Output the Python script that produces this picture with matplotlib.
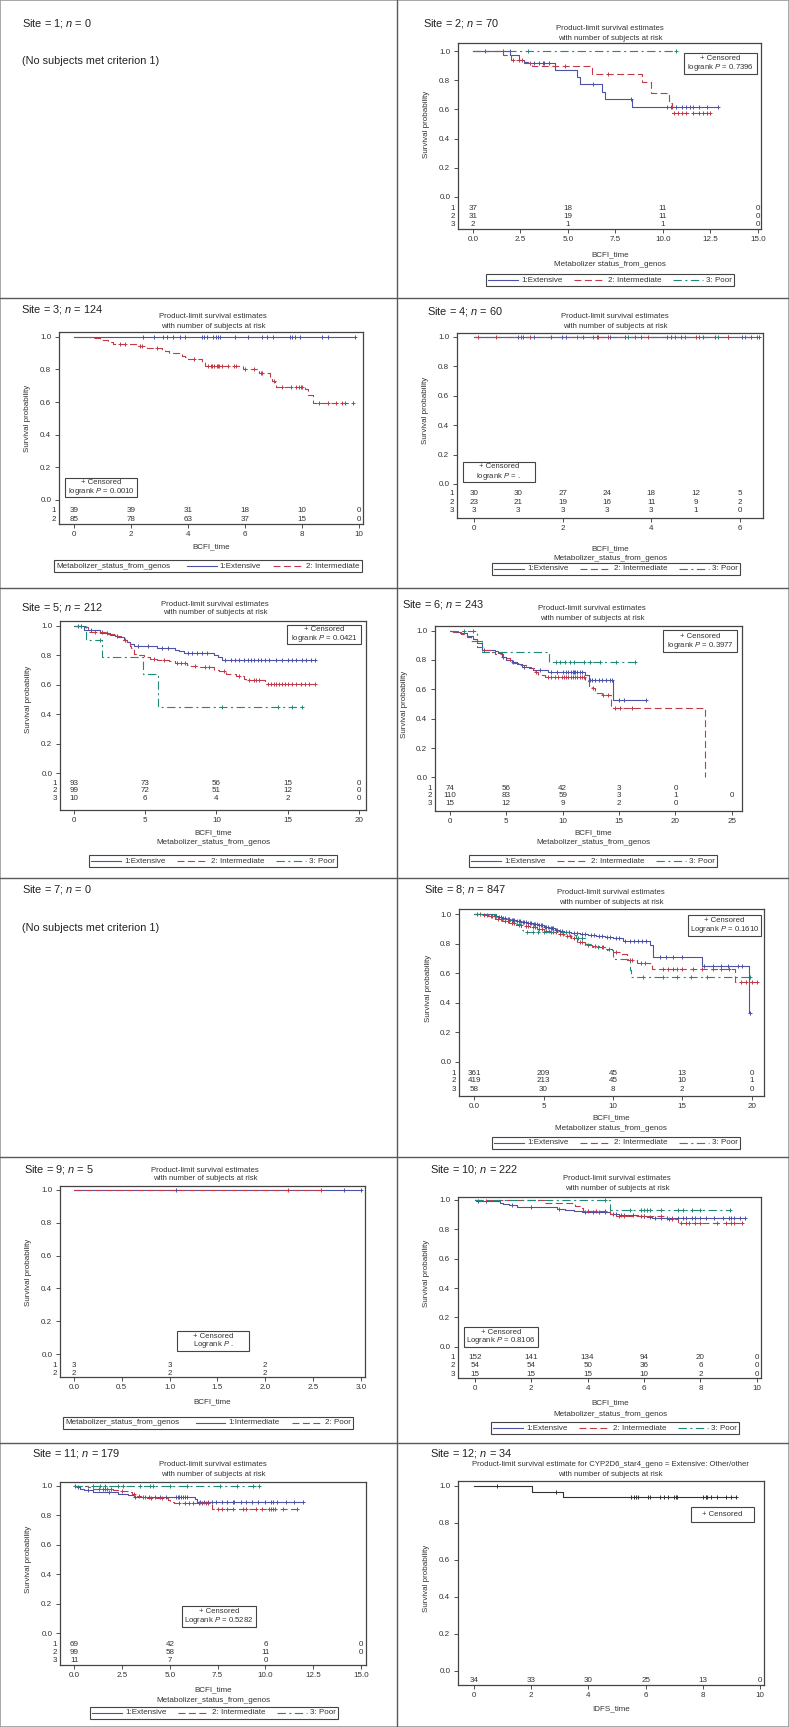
import numpy as np
import matplotlib
matplotlib.use("Agg")
import matplotlib.pyplot as plt
from matplotlib.lines import Line2D
from matplotlib.patches import Rectangle
from matplotlib.transforms import blended_transform_factory

plt.rcParams["font.family"] = ["Liberation Sans", "DejaVu Sans"]
plt.rcParams["mathtext.fontset"] = "custom"
plt.rcParams["mathtext.rm"] = "Liberation Sans"
plt.rcParams["mathtext.it"] = "Liberation Sans:italic"
plt.rcParams["lines.scale_dashes"] = False

# ---------------- data ----------------
# t = event times, s = survival after each event, c = censoring times

# Site 2
s2_ext_t = [1.96, 2.4, 2.7, 2.9, 4.29, 5.46, 5.64, 6.77, 6.95, 8.38]
s2_ext_s = [0.97, 0.94, 0.925, 0.917, 0.868, 0.82, 0.773, 0.72, 0.668, 0.614]
s2_ext_c = [1.56, 1.93, 3.2, 3.5, 3.7, 3.75, 4.0, 6.3, 8.3, 10.2, 10.4, 10.7, 11.0, 11.2, 11.4, 11.6, 11.9, 12.3, 12.9]
s2_int_t = [1.56, 2.0, 2.66, 3.1, 6.25, 8.9, 9.35, 10.3, 10.5]
s2_int_s = [0.97, 0.936, 0.92, 0.898, 0.84, 0.79, 0.71, 0.645, 0.578]
s2_int_c = [0.65, 2.1, 2.4, 2.6, 3.0, 4.85, 7.12, 10.6, 10.8, 11.0, 11.2, 11.6, 11.9, 12.1, 12.3, 12.46]
s2_poor_t = []
s2_poor_s = []
s2_poor_c = [2.92, 10.71]
s2_risk_x = [0, 5, 10, 15]
s2_risk = [[37, 18, 11, 0], [31, 19, 11, 0], [2, 1, 1, 0]]

# Site 3
s3_ext_t = []
s3_ext_s = []
s3_ext_c = [2.41, 2.82, 3.13, 3.25, 3.49, 3.72, 3.89, 4.48, 4.56, 4.65, 4.89, 4.98, 5.06, 5.12, 5.65,
            6.12, 6.58, 6.76, 6.99, 7.58, 7.66, 7.75, 7.93, 8.69, 8.92, 9.86]
s3_int_t = [0.58, 0.91, 1.2, 1.38, 2.2, 2.55, 3.1, 3.2, 3.35, 3.78, 3.9, 4.0, 4.48, 4.6, 5.94, 6.5,
            6.88, 6.95, 7.06, 7.1, 8.1, 8.2, 8.4]
s3_int_s = [0.99, 0.98, 0.97, 0.957, 0.943, 0.93, 0.92, 0.91, 0.90, 0.885, 0.875, 0.866, 0.845, 0.82,
            0.802, 0.78, 0.745, 0.73, 0.715, 0.694, 0.68, 0.643, 0.592]
s3_int_c = [1.6, 1.8, 2.3, 2.4, 2.9, 4.2, 4.7, 4.8, 4.85, 4.9, 5.0, 5.05, 5.1, 5.2, 5.4, 5.6, 5.7, 6.0,
            6.3, 6.55, 6.6, 7.0, 7.3, 7.6, 7.8, 7.9, 7.95, 8.0, 8.6, 8.9, 9.2, 9.4, 9.5, 9.8]
s3_risk_x = [0, 2, 4, 6, 8, 10]
s3_risk = [[39, 39, 31, 18, 10, 0], [85, 78, 63, 37, 15, 0]]

# Site 4
s4_ext_c = [1.0, 1.11, 1.36, 1.75, 1.98, 2.07, 2.47, 2.77, 3.07, 3.41, 3.78, 4.35, 4.44, 4.67, 5.17,
            5.44, 5.74, 6.04, 6.25, 6.43]
s4_int_c = [0.10, 0.49, 1.06, 1.26, 2.69, 2.80, 3.03, 3.63, 3.93, 4.53, 5.02, 5.08, 5.74, 6.11, 6.38]
s4_poor_c = [2.32, 3.48, 4.76, 5.5]
s4_risk_x = [0, 1, 2, 3, 4, 5, 6]
s4_risk = [[30, 30, 27, 24, 18, 12, 5], [23, 21, 19, 16, 11, 9, 2], [3, 3, 3, 3, 3, 1, 0]]

# Site 5
s5_ext_t = [0.7, 1.82, 2.5, 2.9, 3.1, 3.5, 3.7, 3.9, 4.2, 5.8, 7.1, 7.4, 7.7, 9.8, 10.1, 10.4]
s5_ext_s = [0.968, 0.95, 0.94, 0.93, 0.92, 0.90, 0.888, 0.878, 0.86, 0.848, 0.837, 0.825, 0.814,
            0.803, 0.79, 0.769]
s5_ext_c = [0.3, 0.5, 1.2, 2.3, 3.0, 3.6, 4.5, 5.2, 6.2, 6.6, 8.0, 8.3, 8.6, 9.0, 9.3, 10.6, 11.0,
            11.3, 11.6, 11.9, 12.2, 12.4, 12.6, 12.9, 13.1, 13.4, 13.7, 14.2, 14.6, 15.0, 15.3, 15.6,
            16.0, 16.3, 16.6, 16.9]
s5_int_t = [0.77, 1.0, 2.4, 3.0, 3.3, 3.46, 3.7, 3.9, 4.0, 4.2, 4.4, 4.9, 5.3, 5.8, 6.7, 7.1, 7.9,
            8.1, 8.8, 9.8, 10.2, 10.7, 11.4, 11.9, 12.1, 13.4]
s5_int_s = [0.99, 0.96, 0.945, 0.93, 0.92, 0.90, 0.88, 0.86, 0.848, 0.81, 0.80, 0.787, 0.774, 0.765,
            0.758, 0.747, 0.735, 0.724, 0.717, 0.70, 0.69, 0.672, 0.661, 0.638, 0.629, 0.606]
s5_int_c = [1.5, 2.0, 5.6, 6.3, 7.2, 7.5, 7.8, 8.5, 9.2, 9.5, 10.5, 11.6, 12.3, 12.6, 12.8, 13.0,
            13.6, 13.8, 14.0, 14.2, 14.4, 14.6, 14.8, 15.0, 15.3, 15.6, 15.9, 16.2, 16.5, 16.9]
s5_poor_t = [0.85, 1.94, 4.87, 5.92]
s5_poor_s = [0.90, 0.787, 0.674, 0.446]
s5_poor_c = [1.85, 10.36, 14.34, 15.27, 15.98]
s5_risk_x = [0, 5, 10, 15, 20]
s5_risk = [[93, 73, 56, 15, 0], [99, 72, 51, 12, 0], [10, 6, 4, 2, 0]]

# Site 6
s6_ext_t = [0.44, 0.9, 1.48, 2.0, 2.4, 2.8, 4.0, 4.3, 4.6, 5.0, 5.5, 5.9, 6.4, 7.0, 7.4, 8.7, 12.0,
            12.3, 14.5]
s6_ext_s = [0.99, 0.98, 0.96, 0.94, 0.914, 0.868, 0.86, 0.845, 0.823, 0.80, 0.785, 0.77, 0.755,
            0.745, 0.732, 0.721, 0.698, 0.664, 0.528]
s6_ext_c = [3.0, 4.7, 5.6, 6.6, 8.0, 9.0, 9.5, 10.0, 10.3, 10.5, 10.7, 10.9, 11.0, 11.1, 11.3, 11.5,
            11.7, 12.4, 12.6, 12.9, 13.2, 13.5, 13.8, 14.2, 14.4, 15.0, 15.4, 17.4]
s6_int_t = [0.3, 1.0, 1.5, 1.9, 2.4, 3.0, 3.6, 4.0, 4.7, 5.3, 6.1, 6.7, 7.2, 7.5, 7.8, 8.4, 12.0,
            12.3, 12.6, 12.9, 13.5, 14.3, 22.6]
s6_int_s = [0.99, 0.975, 0.955, 0.93, 0.89, 0.87, 0.855, 0.84, 0.81, 0.782, 0.766, 0.755, 0.744,
            0.717, 0.698, 0.683, 0.653, 0.624, 0.608, 0.574, 0.562, 0.472, 0.0]
s6_int_c = [7.6, 8.7, 9.0, 9.3, 9.6, 9.9, 10.1, 10.3, 10.5, 10.7, 10.9, 11.1, 11.3, 11.5, 11.7, 11.9,
            12.7, 13.6, 14.0, 14.6, 15.1, 16.1]
s6_poor_t = [2.37, 2.8, 8.79]
s6_poor_s = [0.932, 0.857, 0.789]
s6_poor_c = [1.2, 2.0, 9.4, 9.8, 10.2, 10.6, 11.0, 11.9, 12.4, 13.3, 14.7, 16.4]
s6_risk_x = [0, 5, 10, 15, 20, 25]
s6_risk = [[74, 56, 42, 3, 0, None], [110, 83, 59, 3, 1, 0], [15, 12, 9, 2, 0, None]]

# Site 8
s8_ext_t = [1.4, 1.7, 2.0, 2.3, 2.6, 3.0, 3.4, 3.8, 4.2, 4.6, 5.0, 5.4, 5.8, 6.1, 6.5, 7.0, 7.6,
            8.2, 8.8, 9.4, 10.0, 10.7, 12.7, 12.9, 16.4, 19.8]
s8_ext_s = [0.99, 0.983, 0.975, 0.968, 0.962, 0.955, 0.948, 0.94, 0.932, 0.925, 0.915, 0.905, 0.895,
            0.885, 0.878, 0.871, 0.865, 0.858, 0.85, 0.844, 0.838, 0.821, 0.792, 0.713, 0.649, 0.328]
s8_ext_c = [1.5, 1.6, 1.8, 1.9, 2.1, 2.2, 2.4, 2.5, 2.7, 2.8, 2.9, 3.1, 3.2, 3.3, 3.5, 3.6, 3.7, 3.9,
            4.0, 4.1, 4.3, 4.4, 4.5, 4.7, 4.8, 4.9, 5.1, 5.2, 5.3, 5.5, 5.6, 5.7, 5.9, 6.0, 6.2, 6.3,
            6.6, 6.8, 7.2, 7.4, 7.8, 8.0, 8.4, 8.6, 9.0, 9.2, 9.6, 9.8, 10.2, 10.4, 10.9, 11.2, 11.5,
            11.8, 12.1, 12.4, 13.4, 13.8, 14.3, 15.0, 16.6, 17.2, 17.8, 18.3, 19.0, 19.3, 19.9]
s8_int_t = [0.5, 1.0, 1.5, 2.0, 2.5, 3.0, 3.5, 4.0, 4.5, 5.0, 5.5, 6.0, 6.5, 7.0, 7.4, 8.0, 8.5,
            9.0, 9.5, 10.0, 10.5, 11.0, 11.7, 12.8, 18.8]
s8_int_s = [0.995, 0.99, 0.97, 0.955, 0.94, 0.928, 0.92, 0.912, 0.9, 0.887, 0.877, 0.867, 0.852,
            0.837, 0.81, 0.795, 0.785, 0.776, 0.762, 0.747, 0.73, 0.69, 0.667, 0.628, 0.543]
s8_int_c = [0.2, 0.4, 0.7, 0.9, 1.2, 1.3, 1.7, 1.9, 2.2, 2.4, 2.7, 2.9, 3.2, 3.4, 3.7, 3.9, 4.2, 4.4,
            4.7, 4.9, 5.2, 5.4, 5.7, 5.9, 6.2, 6.4, 6.7, 6.9, 7.2, 7.6, 7.8, 8.2, 8.7, 9.2, 9.7, 10.2,
            11.2, 11.4, 12.0, 12.3, 13.6, 14.0, 14.3, 14.6, 15.0, 15.8, 16.4, 17.2, 17.8, 18.4, 19.2,
            19.6, 20.0, 20.4]
s8_poor_t = [1.6, 2.0, 2.6, 3.0, 3.4, 3.5, 6.8, 7.3, 8.0, 8.5, 9.6, 10.0, 11.2, 11.3]
s8_poor_s = [0.983, 0.966, 0.948, 0.931, 0.896, 0.879, 0.86, 0.84, 0.80, 0.78, 0.76, 0.70, 0.625, 0.577]
s8_poor_c = [3.8, 4.2, 4.6, 5.0, 5.5, 7.5, 7.8, 8.9, 9.3, 12.2, 13.6, 14.6, 15.6, 16.8, 19.9]
s8_risk_x = [0, 5, 10, 15, 20]
s8_risk = [[361, 209, 45, 13, 0], [419, 213, 45, 10, 1], [58, 30, 8, 2, 0]]

# Site 9 (1:Intermediate, 2: Poor)
s9_int_c = [1.07, 2.82, 3.0]
s9_poor_c = [2.24, 2.58]
s9_risk_x = [0, 1, 2]
s9_risk = [[3, 3, 2], [2, 2, 2]]

# Site 10
s10_ext_t = [0.05, 0.9, 1.0, 1.2, 1.5, 2.2, 2.9, 3.2, 3.5, 3.8, 4.8, 5.1, 5.5, 5.8, 6.1, 6.3, 7.1]
s10_ext_s = [0.993, 0.98, 0.97, 0.965, 0.955, 0.95, 0.94, 0.932, 0.925, 0.916, 0.905, 0.898, 0.895,
             0.891, 0.886, 0.88, 0.875]
s10_ext_c = [0.1, 0.4, 1.3, 2.0, 3.0, 3.9, 4.2, 4.4, 4.6, 4.9, 5.0, 5.2, 5.3, 5.6, 5.9, 6.0, 6.2,
             6.4, 6.6, 6.8, 7.0, 7.2, 7.4, 7.5, 7.7, 7.8, 8.0, 8.2, 8.5, 8.8, 9.0, 9.1, 9.2, 9.4, 9.6]
s10_int_t = [2.49, 3.55, 3.79, 3.85, 4.79, 5.0, 6.8, 7.22]
s10_int_s = [0.981, 0.962, 0.944, 0.925, 0.906, 0.888, 0.87, 0.84]
s10_int_c = [4.0, 4.3, 4.6, 5.1, 5.3, 6.0, 6.6, 6.9, 7.0, 7.3, 7.5, 7.6, 7.8, 8.0, 8.6, 8.9, 9.1,
             9.2, 9.47]
s10_poor_t = [4.79]
s10_poor_s = [0.933]
s10_poor_c = [4.6, 5.5, 5.9, 6.0, 6.1, 6.2, 6.6, 7.2, 7.4, 7.7, 8.0, 9.05]
s10_risk_x = [0, 2, 4, 6, 8, 10]
s10_risk = [[152, 141, 134, 94, 20, 0], [54, 54, 50, 36, 6, 0], [15, 15, 15, 10, 2, 0]]

# Site 11
s11_ext_t = [0.12, 0.3, 0.5, 1.0, 2.3, 2.8, 3.1, 3.3, 3.6, 6.3, 6.4]
s11_ext_s = [0.989, 0.98, 0.97, 0.955, 0.945, 0.935, 0.925, 0.922, 0.92, 0.91, 0.892]
s11_ext_c = [0.05, 0.2, 0.7, 1.8, 3.2, 3.9, 4.2, 4.5, 4.8, 5.3, 5.4, 5.5, 5.6, 5.7, 5.8, 5.9, 6.6,
             6.8, 7.0, 7.2, 7.4, 7.7, 8.0, 8.3, 8.35, 8.7, 9.0, 9.3, 9.6, 10.0, 10.3, 10.4, 10.6,
             11.1, 11.5, 11.98]
s11_int_t = [0.7, 1.0, 2.0, 2.3, 2.9, 3.0, 3.3, 3.5, 3.8, 4.3, 4.9, 5.0, 5.2, 7.22]
s11_int_s = [0.99, 0.977, 0.97, 0.964, 0.955, 0.945, 0.932, 0.925, 0.918, 0.914, 0.905, 0.89, 0.88,
             0.842]
s11_int_c = [1.3, 1.5, 1.6, 1.7, 1.9, 2.5, 3.1, 3.4, 3.6, 3.7, 4.0, 4.6, 5.5, 5.8, 6.0, 6.2, 6.5,
             6.7, 6.9, 7.0, 7.5, 7.7, 8.0, 8.3, 8.8, 9.0, 9.5, 9.8, 10.2, 10.3, 10.4, 10.5, 10.9, 11.63]
s11_poor_c = [0.99, 1.34, 1.6, 2.3, 2.56, 3.44, 3.97, 4.1, 5.0, 5.88, 7.62, 8.5, 9.37, 9.68]
s11_risk_x = [0, 5, 10, 15]
s11_risk = [[69, 42, 6, 0], [99, 58, 11, 0], [11, 7, 0, None]]

# Site 12
s12_t = [2.02, 3.1]
s12_s = [0.97, 0.939]
s12_c = [0.8, 2.85, 5.5, 5.6, 5.65, 5.75, 6.1, 6.15, 6.5, 6.65, 6.8, 7.0, 7.05, 7.1, 8.0, 8.1, 8.15,
         8.3, 8.5, 8.8, 9.0, 9.15]
s12_risk_x = [0, 2, 4, 6, 8, 10]
s12_risk = [[34, 33, 30, 25, 13, 0]]

# ---------------- styling / helpers ----------------
W, H, DPI = 789, 1727, 100
FS = 5.8
BLUE, RED, TEAL, DARK = "#4b52a8", "#c23a48", "#1f8a78", "#333333"
TXT, EDGE, DIV = "#333333", "#444444", "#5a5a5a"
STYLE = {
    "g1": dict(color=BLUE, ls="-"),
    "g2": dict(color=RED, ls=(0, (5, 2.5))),
    "g3": dict(color=TEAL, ls=(0, (6, 2.5, 1.5, 2.5))),
    "g0": dict(color=DARK, ls="-"),
}
Y_TICKS = [0.0, 0.2, 0.4, 0.6, 0.8, 1.0]

fig = plt.figure(figsize=(W / DPI, H / DPI), dpi=DPI)
fig.patch.set_facecolor("white")


def fx(x):
    return x / W


def fy(y):
    return 1 - y / H


def ptext(x, y, s, **kw):
    kw.setdefault("fontsize", FS)
    kw.setdefault("color", TXT)
    return fig.text(fx(x), fy(y), s, **kw)


def header(x, y, site, n):
    ptext(x, y, f"Site = {site}; $n$ = {n}", fontsize=7.9, color="#222222", va="center")


def titles(cx, y1, y2, line1="Product-limit survival estimates"):
    ptext(cx, y1, line1, ha="center", va="center", fontsize=5.6)
    ptext(cx, y2, "with number of subjects at risk", ha="center", va="center", fontsize=5.6)


def km(ax, t, s, c, sty):
    t = np.asarray(t, float)
    s = np.asarray(s, float)
    c = np.asarray(c, float)
    end = max(t.max() if t.size else 0.0, c.max() if c.size else 0.0)
    xs = np.r_[0.0, t, end]
    ys = np.r_[1.0, s, s[-1] if s.size else 1.0]
    ax.step(xs, ys, where="post", lw=0.8, **STYLE[sty])
    idx = np.searchsorted(t, c, side="right")
    ax.plot(c, np.r_[1.0, s][idx], ls="none", marker="+", ms=3.5, mew=0.7,
            color=STYLE[sty]["color"])


def km_panel(frame, xlim, ylim, xticks, xlabels, curves, risk_x, risk_rows, risk_y,
             row_labels=True):
    x0, y0, x1, y1 = frame
    ax = fig.add_axes([fx(x0), fy(y1), (x1 - x0) / W, (y1 - y0) / H])
    for t, s, c, sty in curves:
        km(ax, t, s, c, sty)
    ax.set_xlim(xlim)
    ax.set_ylim(ylim)
    ax.set_xticks(xticks)
    ax.set_xticklabels(xlabels)
    ax.set_yticks(Y_TICKS)
    ax.set_yticklabels([f"{v:.1f}" for v in Y_TICKS])
    ax.tick_params(direction="out", length=3, width=0.6, labelsize=FS, colors=TXT)
    ax.tick_params(axis="x", pad=2)
    ax.tick_params(axis="y", pad=2.5)
    for sp in ax.spines.values():
        sp.set_linewidth(0.9)
        sp.set_color(EDGE)
    tr = blended_transform_factory(ax.transAxes, ax.transData)
    for k, (vals, yv) in enumerate(zip(risk_rows, risk_y)):
        for xv, v in zip(risk_x, vals):
            if v is not None:
                ax.text(xv, yv, str(v), ha="center", va="center", fontsize=FS, color=TXT)
        if row_labels:
            ax.text(-3.0 / (x1 - x0), yv, str(k + 1), transform=tr, ha="right", va="center",
                    fontsize=FS, color=TXT)
    # y label centred on the 0..1 range
    ymid = y1 - (0.5 - ylim[0]) / (ylim[1] - ylim[0]) * (y1 - y0)
    ptext(x0 - 31, ymid, "Survival probability", rotation=90, ha="center", va="center")
    return ax


def cens_box(box, s):
    x0, y0, x1, y1 = box
    fig.add_artist(Rectangle((fx(x0), fy(y1)), (x1 - x0) / W, (y1 - y0) / H,
                             transform=fig.transFigure, fc="white", ec=EDGE, lw=0.8, zorder=5))
    ptext((x0 + x1) / 2, (y0 + y1) / 2 + 0.5, s, ha="center", va="center",
          multialignment="center", linespacing=1.0, fontsize=5.6, zorder=6)


def legend_row(cx, cy, items, title=None):
    r = fig.canvas.get_renderer()
    em = FS * DPI / 72

    def width(s):
        t = fig.text(0, 0, s, fontsize=FS)
        w = t.get_window_extent(r).width
        t.remove()
        return w

    hl, hp, sep, bpad, h = 3.7 * em, 0.4 * em, 1.45 * em, 0.35 * em, 12
    total = 2 * bpad + sep * (len(items) - 1)
    if title:
        total += width(title) + 2 * em
    for lab, sty in items:
        total += hl + hp + width(lab)
    x = cx - total / 2
    fig.add_artist(Rectangle((fx(x), fy(cy + h / 2)), total / W, h / H, transform=fig.transFigure,
                             fill=False, ec=EDGE, lw=0.8))
    x += bpad
    if title:
        ptext(x, cy, title, va="center")
        x += width(title) + 2 * em
    for lab, sty in items:
        fig.add_artist(Line2D([fx(x), fx(x + hl)], [fy(cy)] * 2, transform=fig.transFigure,
                              lw=0.8, **STYLE[sty]))
        x += hl + hp
        ptext(x, cy, lab, va="center")
        x += width(lab) + sep


THREE = [("1:Extensive", "g1"), ("2: Intermediate", "g2"), ("3: Poor", "g3")]


def f1(vals):
    return [f"{v:.1f}" for v in vals]


def fi(vals):
    return [f"{v:g}" for v in vals]


# ---------------- Site 1 ----------------
header(22, 23, 1, 0)
ptext(22, 61, "(No subjects met criterion 1)", fontsize=7.8, color="#222222", va="center")

# ---------------- Site 2 ----------------
header(423, 23, 2, 70)
titles(610, 29, 38)
xt = [0, 2.5, 5, 7.5, 10, 12.5, 15]
km_panel((458, 43, 761, 229), (-0.79, 15.16), (-0.22, 1.055), xt, f1(xt),
         [(s2_ext_t, s2_ext_s, s2_ext_c, "g1"), (s2_int_t, s2_int_s, s2_int_c, "g2"),
          (s2_poor_t, s2_poor_s, s2_poor_c, "g3")],
         s2_risk_x, s2_risk, [-0.08, -0.135, -0.19])
cens_box((684, 53, 757, 74), "+ Censored\nlogrank $P$ = 0.7396")
ptext(610, 255, "BCFI_time", ha="center", va="center")
ptext(610, 265, "Metabolizer status_from_genos", ha="center", va="center")
legend_row(610, 280, THREE)

# ---------------- Site 3 ----------------
header(21, 309, 3, 124)
titles(213, 316, 326)
xt = [0, 2, 4, 6, 8, 10]
km_panel((59, 332, 363, 524), (-0.526, 10.14), (-0.147, 1.029), xt, fi(xt),
         [(s3_ext_t, s3_ext_s, s3_ext_c, "g1"), (s3_int_t, s3_int_s, s3_int_c, "g2")],
         s3_risk_x, s3_risk, [-0.067, -0.118])
cens_box((65, 478, 137, 497), "+ Censored\nlogrank $P$ = 0.0010")
ptext(211, 547, "BCFI_time", ha="center", va="center")
legend_row(208, 566, THREE[:2], title="Metabolizer_status_from_genos")

# ---------------- Site 4 ----------------
header(427, 311, 4, 60)
titles(615, 317, 326)
xt = [0, 2, 4, 6]
km_panel((457, 333, 763, 518), (-0.38, 6.52), (-0.231, 1.025), xt, fi(xt),
         [([], [], s4_ext_c, "g1"), ([], [], s4_int_c, "g2"), ([], [], s4_poor_c, "g3")],
         s4_risk_x, s4_risk, [-0.068, -0.124, -0.181])
cens_box((463, 462, 535, 482), "+ Censored\nlogrank $P$ = .")
ptext(610, 549, "BCFI_time", ha="center", va="center")
ptext(610, 558, "Metabolizer_status_from_genos", ha="center", va="center")
legend_row(616, 569, THREE)

# ---------------- Site 5 ----------------
header(21, 608, 5, 212)
titles(215, 604, 613)
xt = [0, 5, 10, 15, 20]
km_panel((60, 621, 366, 810), (-0.98, 20.49), (-0.251, 1.032), xt, fi(xt),
         [(s5_ext_t, s5_ext_s, s5_ext_c, "g1"), (s5_int_t, s5_int_s, s5_int_c, "g2"),
          (s5_poor_t, s5_poor_s, s5_poor_c, "g3")],
         s5_risk_x, s5_risk, [-0.068, -0.122, -0.176])
cens_box((287, 625, 361, 644), "+ Censored\nlogrank $P$ = 0.0421")
ptext(213, 833, "BCFI_time", ha="center", va="center")
ptext(213, 843, "Metabolizer_status_from_genos", ha="center", va="center")
legend_row(213, 861, THREE)

# ---------------- Site 6 ----------------
header(402, 605, 6, 243)
titles(592, 608, 618)
xt = [0, 5, 10, 15, 20, 25]
km_panel((435, 626, 742, 811), (-1.33, 25.9), (-0.229, 1.031), xt, fi(xt),
         [(s6_ext_t, s6_ext_s, s6_ext_c, "g1"), (s6_int_t, s6_int_s, s6_int_c, "g2"),
          (s6_poor_t, s6_poor_s, s6_poor_c, "g3")],
         s6_risk_x, s6_risk, [-0.073, -0.125, -0.18])
cens_box((663, 630, 737, 652), "+ Censored\nlogrank $P$ = 0.3977")
ptext(593, 833, "BCFI_time", ha="center", va="center")
ptext(593, 843, "Metabolizer_status_from_genos", ha="center", va="center")
legend_row(593, 861, THREE)

# ---------------- Site 7 ----------------
header(22, 890, 7, 0)
ptext(22, 928, "(No subjects met criterion 1)", fontsize=7.8, color="#222222", va="center")

# ---------------- Site 8 ----------------
header(424, 890, 8, 847)
titles(611, 893, 903)
xt = [0, 5, 10, 15, 20]
km_panel((459, 909, 764, 1096), (-1.1, 20.89), (-0.233, 1.036), xt, ["0.0", "5", "10", "15", "20"],
         [(s8_ext_t, s8_ext_s, s8_ext_c, "g1"), (s8_int_t, s8_int_s, s8_int_c, "g2"),
          (s8_poor_t, s8_poor_s, s8_poor_c, "g3")],
         s8_risk_x, s8_risk, [-0.079, -0.131, -0.187])
cens_box((688, 915, 761, 936), "+ Censored\nLogrank $P$ = 0.1610")
ptext(611, 1118, "BCFI_time", ha="center", va="center")
ptext(611, 1129, "Metabolizer status_from_genos", ha="center", va="center")
legend_row(616, 1143, THREE)

# ---------------- Site 9 ----------------
header(24, 1170, 9, 5)
titles(205, 1170, 1179)
xt = [0, 0.5, 1, 1.5, 2, 2.5, 3]
km_panel((60, 1186, 365, 1377), (-0.146, 3.042), (-0.14, 1.024), xt, f1(xt),
         [([], [], s9_int_c, "g1"), ([], [], s9_poor_c, "g2")],
         s9_risk_x, s9_risk, [-0.071, -0.118])
cens_box((177, 1331, 249, 1351), "+ Censored\nLogrank $P$ .")
ptext(212, 1402, "BCFI_time", ha="center", va="center")
legend_row(208, 1423, [("1:Intermediate", "g1"), ("2: Poor", "g2")],
           title="Metabolizer_status_from_genos")

# ---------------- Site 10 ----------------
header(430, 1170, 10, 222)
titles(617, 1179, 1188)
xt = [0, 2, 4, 6, 8, 10]
km_panel((458, 1197, 761, 1378), (-0.6, 10.15), (-0.213, 1.02), xt, fi(xt),
         [(s10_ext_t, s10_ext_s, s10_ext_c, "g1"), (s10_int_t, s10_int_s, s10_int_c, "g2"),
          (s10_poor_t, s10_poor_s, s10_poor_c, "g3")],
         s10_risk_x, s10_risk, [-0.072, -0.13, -0.186])
cens_box((464, 1327, 538, 1347), "+ Censored\nLogrank $P$ = 0.8106")
ptext(610, 1403, "BCFI_time", ha="center", va="center")
ptext(610, 1414, "Metabolizer_status_from_genos", ha="center", va="center")
legend_row(615, 1428, THREE)

# ---------------- Site 11 ----------------
header(32, 1453, 11, 179)
titles(213, 1464, 1474)
xt = [0, 2.5, 5, 7.5, 10, 12.5, 15]
km_panel((60, 1482, 366, 1665), (-0.75, 15.26), (-0.215, 1.025), xt, f1(xt),
         [(s11_ext_t, s11_ext_s, s11_ext_c, "g1"), (s11_int_t, s11_int_s, s11_int_c, "g2"),
          ([], [], s11_poor_c, "g3")],
         s11_risk_x, s11_risk, [-0.079, -0.131, -0.185])
cens_box((182, 1606, 256, 1627), "+ Censored\nLogrank $P$ = 0.5282")
ptext(213, 1690, "BCFI_time", ha="center", va="center")
ptext(213, 1701, "Metabolizer_status_from_genos", ha="center", va="center")
legend_row(214, 1713, THREE)

# ---------------- Site 12 ----------------
header(430, 1453, 12, 34)
titles(610, 1464, 1474,
       line1="Product-limit survival estimate for CYP2D6_star4_geno = Extensive: Other/other")
xt = [0, 2, 4, 6, 8, 10]
km_panel((458, 1481, 764, 1685), (-0.56, 10.14), (-0.076, 1.027), xt, fi(xt),
         [(s12_t, s12_s, s12_c, "g0")],
         s12_risk_x, s12_risk, [-0.049], row_labels=False)
cens_box((691, 1507, 754, 1522), "+ Censored")
ptext(611, 1709, "IDFS_time", ha="center", va="center")

# ---------------- panel grid ----------------
for yy in [298, 588, 878, 1157, 1443]:
    fig.add_artist(Line2D([0, 1], [fy(yy)] * 2, transform=fig.transFigure, color=DIV, lw=1.0))
fig.add_artist(Line2D([fx(397)] * 2, [0, 1], transform=fig.transFigure, color=DIV, lw=1.0))
fig.add_artist(Rectangle((0, 0), 1, 1, transform=fig.transFigure, fill=False, ec="#9a9a9a", lw=1.2))

fig.savefig("out.png", dpi=DPI, facecolor="white")
